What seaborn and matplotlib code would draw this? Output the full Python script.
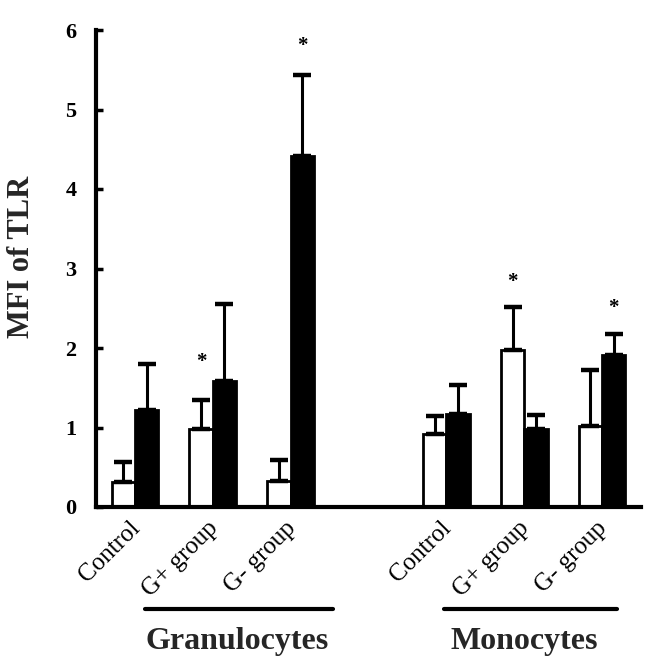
import numpy as np
import pandas as pd
import matplotlib
matplotlib.use("Agg")
import matplotlib.pyplot as plt
import matplotlib.transforms as mtransforms
import seaborn as sns

# ---- data ----
cell_types = ["Granulocytes", "Monocytes"]
groups = ["Control", "G+ group", "G- group"]
open_mean = [0.31, 0.98, 0.33, 0.92, 1.97, 1.02]
open_err = [0.26, 0.36, 0.26, 0.22, 0.55, 0.70]
filled_mean = [1.22, 1.58, 4.42, 1.17, 0.98, 1.91]
filled_err = [0.58, 0.97, 1.01, 0.36, 0.18, 0.27]
# significance marks: (category index, series, height)
star_cat = [1, 2, 4, 5]
star_series = ["open", "filled", "open", "filled"]
star_y = [1.82, 5.80, 2.83, 2.50]
y_ticks = [0, 1, 2, 3, 4, 5, 6]

sns.set_theme(style="white")
plt.rcParams["font.family"] = ["Liberation Serif", "DejaVu Serif"]

cats = [f"{c}|{g}" for c in cell_types for g in groups]
order = cats[:3] + ["gap"] + cats[3:]
df = pd.DataFrame({
    "cat": cats * 2,
    "series": ["open"] * 6 + ["filled"] * 6,
    "value": open_mean + filled_mean,
})

fig = plt.figure(figsize=(6.56, 6.70), dpi=100)
ax = fig.add_axes([96 / 656, 1 - 507 / 670, (641 - 96) / 656, 477 / 670])

sns.barplot(data=df, x="cat", y="value", hue="series", order=order,
            hue_order=["open", "filled"],
            palette={"open": "white", "filled": "black"},
            edgecolor="black", linewidth=2.0, width=0.6, errorbar=None,
            legend=False, ax=ax)

pos = [order.index(c) for c in cats]
bw = 0.15
xo = [p - bw for p in pos]
xf = [p + bw for p in pos]
ax.errorbar(xo, open_mean, yerr=[np.zeros(6), open_err], fmt="none",
            ecolor="black", elinewidth=2.2, capsize=6.5, capthick=3.2, zorder=1)
ax.errorbar(xf, filled_mean, yerr=[np.zeros(6), filled_err], fmt="none",
            ecolor="black", elinewidth=2.2, capsize=6.5, capthick=3.2, zorder=1)

for ci, s, yv in zip(star_cat, star_series, star_y):
    p = pos[ci] + (-bw if s == "open" else bw)
    ax.text(p, yv, "*", ha="center", va="center", fontsize=15,
            fontweight="bold", color="black")

ax.set_ylim(0, 6)
ax.set_xlim(-0.5, 6.5)
ax.set_yticks(y_ticks)
ax.set_yticklabels([str(t) for t in y_ticks], fontsize=16, fontweight="bold")
ax.set_xticks(pos)
ax.set_xticklabels(groups * 2, rotation=45, ha="right",
                   rotation_mode="anchor", fontsize=18)
ax.tick_params(axis="y", direction="in", length=5, width=2.5, pad=14,
               left=True, colors="black")
ax.tick_params(axis="x", length=0, pad=7, colors="black")
shift = mtransforms.ScaledTranslation(-6 / 100, 0, fig.dpi_scale_trans)
for lbl in ax.get_xticklabels():
    lbl.set_transform(lbl.get_transform() + shift)
ax.set_xlabel("")
ax.set_ylabel("")
for side in ["top", "right"]:
    ax.spines[side].set_visible(False)
for side in ["left", "bottom"]:
    ax.spines[side].set_linewidth(3)
    ax.spines[side].set_color("black")

# group underlines and labels
trans = mtransforms.blended_transform_factory(ax.transData, ax.transAxes)
line_y = (507 - 609) / 477
text_y = (507 - 642) / 477
spans = [(0.13, 2.55), (3.97, 6.19)]
centers = [1.31, 5.0]
for (x0, x1), xc, name in zip(spans, centers, cell_types):
    ax.plot([x0, x1], [line_y, line_y], color="black", lw=3,
            transform=trans, clip_on=False)
    ax.text(xc, text_y, name, transform=trans, ha="center", va="center",
            fontsize=23, fontweight="bold")

fig.text(22 / 656, 1 - 257 / 670, "MFI of TLR", rotation=90, ha="center",
         va="center", fontsize=22, fontweight="bold")

fig.savefig("out.png", dpi=100, facecolor="white")
